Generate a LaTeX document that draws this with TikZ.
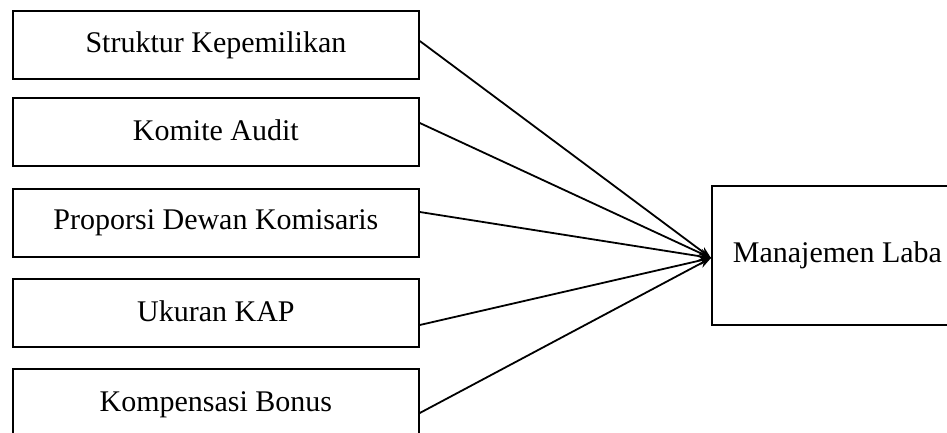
\documentclass[tikz,border=0pt]{standalone}
\usepackage{fontspec}
\setmainfont{Liberation Serif}
\usetikzlibrary{arrows.meta,calc}
\newcommand{\uptxt}[1]{\raisebox{3pt}{#1}}
\begin{document}
\begin{tikzpicture}[x=1pt,y=-1pt,
  box/.style={draw,line width=1.8pt,rectangle,anchor=north west,inner sep=0pt,
    font=\fontsize{30}{36}\selectfont},
  varbox/.style={box,minimum width=406pt,minimum height=68pt},
  link/.style={line width=1.8pt,-{Stealth[length=12pt,width=9pt]}}]
\useasboundingbox (0,0) rectangle (947,433);
\clip (0,0) rectangle (947,433);
\node[varbox] (b1) at (12,10) {\uptxt{Struktur Kepemilikan}};
\node[varbox] (b2) at (12,97) {\uptxt{Komite Audit}};
\node[varbox] (b3) at (12,188) {\uptxt{Proporsi Dewan Komisaris}};
\node[varbox] (b4) at (12,278) {\uptxt{Ukuran KAP}};
\node[varbox,minimum height=72pt] (b5) at (12,368) {\raisebox{6pt}{Kompensasi Bonus}};
\node[box,minimum width=251pt,minimum height=139pt] (m) at (711,185) {\uptxt{Manajemen Laba}};
\coordinate (tip) at ($(m.north west)+(0,73)$);
\coordinate (s1) at ($(b1.north east)+(0,31)$);
\coordinate (s2) at ($(b2.north east)+(0,26)$);
\coordinate (s3) at ($(b3.north east)+(0,24)$);
\coordinate (s4) at ($(b4.north east)+(0,47)$);
\coordinate (s5) at ($(b5.north east)+(0,45)$);
\foreach \s in {s1,s2,s3,s4,s5} \draw[link] (\s) -- (tip);
\end{tikzpicture}
\end{document}
